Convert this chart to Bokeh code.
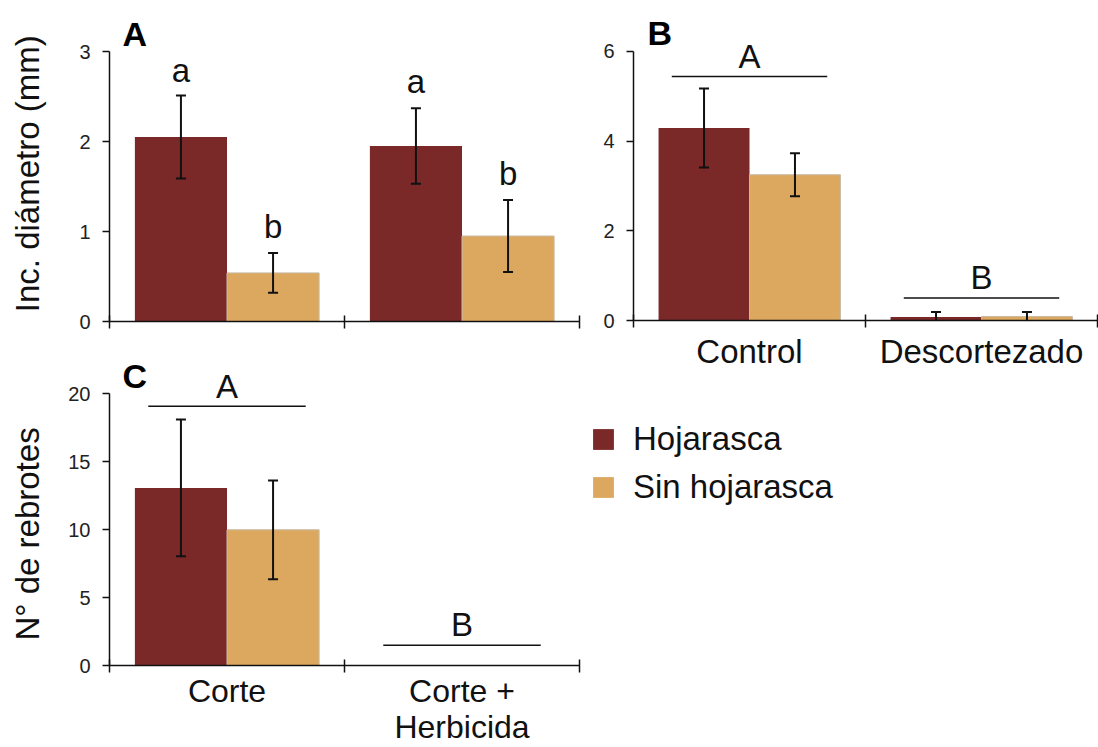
import math
from bokeh.plotting import figure
from bokeh.models import (Range1d, FixedTicker, LinearAxis, Whisker, ColumnDataSource,
                          Label, Legend, LegendItem, TeeHead)
from bokeh.layouts import row, column
from bokeh.embed import file_html
from bokeh.resources import INLINE

# ---------------- data ----------------
series = ["Hojarasca", "Sin hojarasca"]
colors = ["#7A2828", "#DCA860"]
edge_colors = [None, "#C8BBA6"]

# Panel A: Inc. diámetro (mm)
a_cats = ["Corte", "Corte + Herbicida"]
a_hoj = [2.05, 1.95]
a_hoj_err = [0.46, 0.42]
a_sin = [0.54, 0.95]
a_sin_err = [0.22, 0.40]
a_letters_hoj = ["a", "a"]
a_letters_sin = ["b", "b"]
a_letter_y_hoj = [2.66, 2.53]
a_letter_y_sin = [0.92, 1.51]
a_yticks = [0, 1, 2, 3]

# Panel B
b_cats = ["Control", "Descortezado"]
b_hoj = [4.29, 0.08]
b_hoj_err = [0.88, 0.11]
b_sin = [3.25, 0.09]
b_sin_err = [0.48, 0.10]
b_groups = ["A", "B"]
b_line_y = [5.44, 0.50]
b_letter_y = [5.62, 0.70]
b_yticks = [0, 2, 4, 6]

# Panel C: N° de rebrotes
c_cats = ["Corte", "Corte +\nHerbicida"]
c_hoj = [13.06, 0.0]
c_hoj_err = [5.03, 0.0]
c_sin = [9.98, 0.0]
c_sin_err = [3.63, 0.0]
c_groups = ["A", "B"]
c_line_y = [19.07, 1.49]
c_letter_y = [19.6, 2.15]
c_yticks = [0, 5, 10, 15, 20]

y_titles = ["Inc. diámetro (mm)", "N° de rebrotes"]

FONT = "Liberation Sans"
OFF = 0.196
BW = 0.392
HALF_LINE = 0.335
INK = "#111111"
FIX = 12  # baseline correction (px)


def base_fig(w, h, ymax, l, r, t, b):
    p = figure(width=w, height=h, x_range=Range1d(0, 2), y_range=Range1d(0, ymax),
               output_backend="svg", toolbar_location=None, frame_align=False,
               min_border_left=l, min_border_right=r, min_border_top=t, min_border_bottom=b)
    p.grid.visible = False
    p.outline_line_color = None
    p.background_fill_color = "white"
    p.border_fill_color = "white"
    return p


def style_axes(p, yticks, cats=None, label_size="33px", label_line_height=1.2, label_standoff=5):
    ya = p.yaxis[0]
    ya.ticker = FixedTicker(ticks=yticks)
    ya.bounds = (yticks[0], yticks[-1])
    ya.axis_line_width = 1.5
    ya.axis_line_color = INK
    ya.major_tick_in = 0
    ya.major_tick_out = 7
    ya.major_tick_line_width = 1.5
    ya.major_tick_line_color = INK
    ya.minor_tick_line_color = None
    ya.major_label_text_font = FONT
    ya.major_label_text_font_size = "20px"
    ya.major_label_text_color = "#222222"
    ya.major_label_standoff = 12

    xa = p.xaxis[0]
    xa.ticker = FixedTicker(ticks=[0, 1, 2])
    xa.bounds = (0, 2)
    xa.axis_line_width = 1.5
    xa.axis_line_color = INK
    xa.major_tick_in = 6
    xa.major_tick_out = 7
    xa.major_tick_line_width = 1.5
    xa.major_tick_line_color = INK
    xa.minor_tick_line_color = None
    xa.major_label_text_font_size = "0px"
    xa.major_label_standoff = 0
    xa.major_label_overrides = {0: "", 1: "", 2: ""}

    if cats is not None:
        ax2 = LinearAxis(ticker=FixedTicker(ticks=[0.5, 1.5]),
                         major_label_overrides={0.5: cats[0], 1.5: cats[1]})
        ax2.axis_line_color = None
        ax2.major_tick_line_color = None
        ax2.major_tick_in = 0
        ax2.major_tick_out = 0
        ax2.minor_tick_line_color = None
        ax2.major_label_text_font = FONT
        ax2.major_label_text_font_size = label_size
        ax2.major_label_text_color = INK
        ax2.major_label_text_line_height = label_line_height
        ax2.major_label_standoff = label_standoff
        p.add_layout(ax2, "below")


def add_bars(p, hoj, hoj_err, sin, sin_err):
    n = len(hoj)
    centers = [i + 0.5 for i in range(n)]
    xh = [c - OFF for c in centers]
    xs = [c + OFF for c in centers]
    rh = p.vbar(x=xh, top=hoj, width=BW, bottom=0, fill_color=colors[0], line_alpha=0)
    rs = p.vbar(x=xs, top=sin, width=BW, bottom=0, fill_color=colors[1],
                line_color=edge_colors[1], line_width=1)
    wx, wu, wl = [], [], []
    for x, v, e in list(zip(xh, hoj, hoj_err)) + list(zip(xs, sin, sin_err)):
        if e > 0:
            wx.append(x)
            wu.append(v + e)
            wl.append(v - e)
    src = ColumnDataSource(dict(base=wx, upper=wu, lower=wl))
    w = Whisker(source=src, base="base", upper="upper", lower="lower", dimension="height",
                line_color=INK, line_width=2,
                upper_head=TeeHead(size=10, line_width=2, line_color=INK),
                lower_head=TeeHead(size=10, line_width=2, line_color=INK))
    w.level = "annotation"
    p.add_layout(w)
    return rh, rs, xh, xs, centers


def text_label(p, x, y, t, scale):
    p.add_layout(Label(x=x, y=y + FIX / scale, text=t, text_align="center",
                       text_baseline="alphabetic", text_font=FONT, text_font_size="33px",
                       text_color=INK))


def add_groups(p, centers, groups, line_y, letter_y, scale):
    p.segment(x0=[c - HALF_LINE for c in centers], x1=[c + HALF_LINE for c in centers],
              y0=line_y, y1=line_y, line_color=INK, line_width=1.5)
    for c, g, y in zip(centers, groups, letter_y):
        text_label(p, c, y, g, scale)


def panel_letter(p, txt, x, y):
    p.add_layout(Label(x=x, y=y + FIX, x_units="screen", y_units="screen", text=txt,
                       text_align="left", text_baseline="alphabetic", text_font=FONT,
                       text_font_style="bold", text_font_size="34px", text_color="#000000"))


# ---------------- y titles strip (page x 0..50) ----------------
pY = figure(width=50, height=747, x_range=Range1d(0, 1), y_range=Range1d(0, 1),
            output_backend="svg", toolbar_location=None, x_axis_type=None, y_axis_type=None,
            frame_align=False, min_border_left=0, min_border_right=0,
            min_border_top=0, min_border_bottom=0)
pY.grid.visible = False
pY.outline_line_color = None
for txt, start_y in zip(y_titles, [747 - 311.7, 747 - 640]):
    pY.add_layout(Label(x=38.5 - FIX, y=start_y, x_units="screen", y_units="screen", text=txt,
                        angle=math.pi / 2, text_align="left", text_baseline="alphabetic",
                        text_font=FONT, text_font_size="33px", text_color=INK))

# ---------------- Panel A (page x 50..588, y 0..355) ----------------
A_SCALE = 90
pA = base_fig(538, 355, (321 - 12) / A_SCALE, 59, 9, 12, 34)
style_axes(pA, a_yticks)
rh, rs, xh, xs, cA = add_bars(pA, a_hoj, a_hoj_err, a_sin, a_sin_err)
for x, t, y in zip(xh, a_letters_hoj, a_letter_y_hoj):
    text_label(pA, x, y, t, A_SCALE)
for x, t, y in zip(xs, a_letters_sin, a_letter_y_sin):
    text_label(pA, x, y, t, A_SCALE)
panel_letter(pA, "A", 13, 276)

# ---------------- Panel B (page x 588..1098, y 0..372) ----------------
B_SCALE = 45
pB = base_fig(510, 372, (321 - 12) / B_SCALE, 45, 1, 12, 51)
style_axes(pB, b_yticks, b_cats, label_size="33px", label_standoff=5)
_, _, _, _, cB = add_bars(pB, b_hoj, b_hoj_err, b_sin, b_sin_err)
add_groups(pB, cB, b_groups, b_line_y, b_letter_y, B_SCALE)
panel_letter(pB, "B", 14, 276)

# ---------------- Panel C (page x 50..588, y 355..747) ----------------
C_SCALE = (665 - 393) / 20
pC = base_fig(538, 392, (665 - 358) / C_SCALE, 59, 9, 3, 82)
style_axes(pC, c_yticks, c_cats, label_size="32px", label_line_height=1.0, label_standoff=0)
rhC, rsC, _, _, cC = add_bars(pC, c_hoj, c_hoj_err, c_sin, c_sin_err)
add_groups(pC, cC, c_groups, c_line_y, c_letter_y, C_SCALE)
panel_letter(pC, "C", 13, 278)

# ---------------- Legend (page x 588..1098, y 372..747) ----------------
pL = figure(width=510, height=375, x_range=Range1d(0, 1), y_range=Range1d(0, 1),
            output_backend="svg", toolbar_location=None, x_axis_type=None, y_axis_type=None,
            frame_align=False, min_border_left=0, min_border_right=0,
            min_border_top=0, min_border_bottom=0)
pL.grid.visible = False
pL.outline_line_color = None
key_src = ColumnDataSource(dict(x=[0] * len(series), top=[0] * len(series), color=colors))
key_r = pL.vbar(x="x", top="top", bottom=0, width=0, fill_color="color", line_alpha=0,
                source=key_src)
legend = Legend(items=[LegendItem(label=s, renderers=[key_r], index=i)
                       for i, s in enumerate(series)],
                location=(2, 241), orientation="vertical",
                glyph_width=26, glyph_height=26, label_standoff=17, spacing=10,
                padding=0, margin=0, border_line_color=None, background_fill_alpha=0,
                label_text_font=FONT, label_text_font_size="33px", label_height=37,
                label_text_color=INK)
pL.add_layout(legend)

layout = row(pY, column(pA, pC), column(pB, pL))

with open("out.html", "w") as f:
    f.write(file_html(layout, INLINE))
